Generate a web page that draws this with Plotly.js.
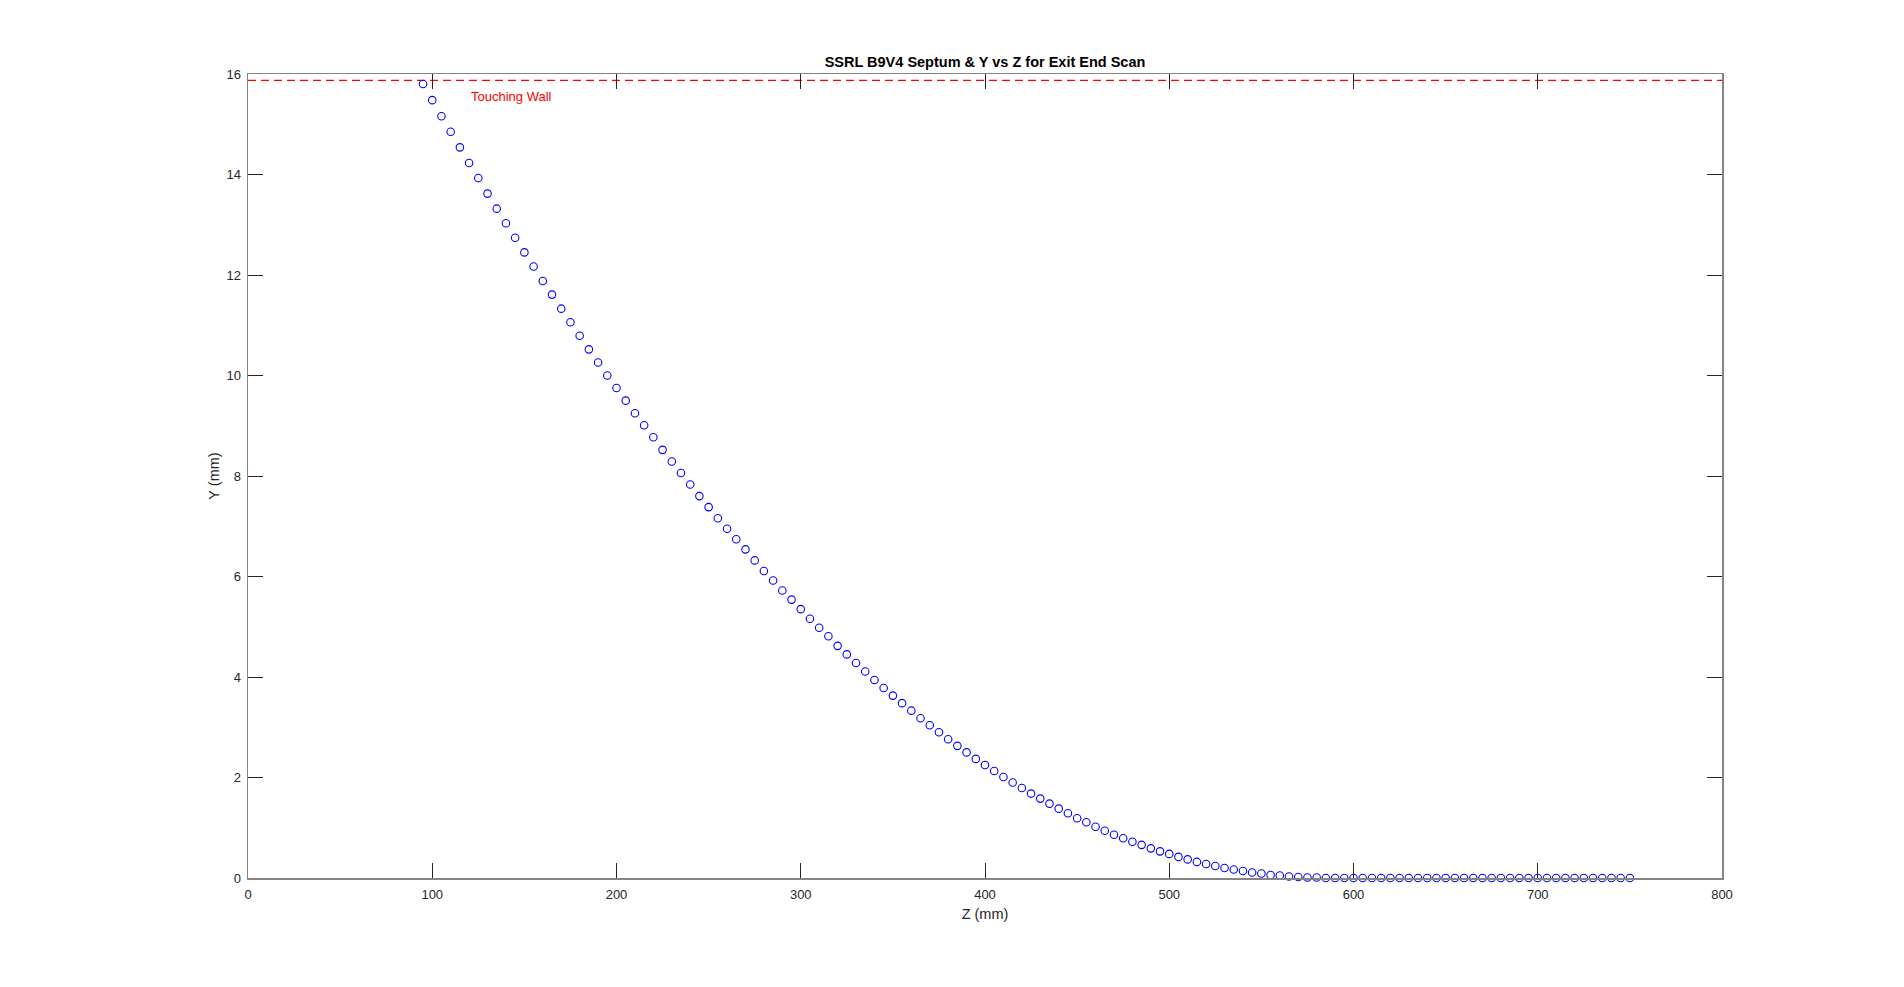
<!DOCTYPE html>
<html>
<head>
<meta charset="utf-8">
<script src="https://cdn.plot.ly/plotly-3.0.1.min.js"></script>
<style>html,body{margin:0;padding:0;background:#fff;}#chart{width:1904px;height:987px;}</style>
</head>
<body>
<div id="chart"></div>
<script>
const zScan = [95,100,105,110,115,120,125,130,135,140,145,150,155,160,165,170,175,180,185,190,195,
  200,205,210,215,220,225,230,235,240,245,250,255,260,265,270,275,280,285,290,295,
  300,305,310,315,320,325,330,335,340,345,350,355,360,365,370,375,380,385,390,395,
  400,405,410,415,420,425,430,435,440,445,450,455,460,465,470,475,480,485,490,495,
  500,505,510,515,520,525,530,535,540,545,550,555,560,565,570,575,580,585,590,595,
  600,605,610,615,620,625,630,635,640,645,650,655,660,665,670,675,680,685,690,695,
  700,705,710,715,720,725,730,735,740,745,750];
const yScan = [15.80,15.48,15.16,14.85,14.54,14.23,13.93,13.62,13.32,13.03,12.74,12.45,12.17,11.88,11.61,11.33,11.06,10.79,10.52,10.26,10.00,
  9.75,9.50,9.25,9.01,8.77,8.52,8.29,8.06,7.83,7.60,7.38,7.16,6.95,6.74,6.54,6.32,6.11,5.92,5.72,5.54,
  5.35,5.16,4.98,4.81,4.62,4.45,4.28,4.11,3.94,3.78,3.63,3.48,3.33,3.18,3.04,2.90,2.76,2.63,2.50,2.37,
  2.25,2.13,2.01,1.90,1.79,1.68,1.58,1.48,1.38,1.29,1.19,1.11,1.02,0.94,0.86,0.79,0.72,0.66,0.59,0.53,
  0.48,0.42,0.37,0.32,0.28,0.24,0.20,0.17,0.14,0.11,0.09,0.06,0.05,0.03,0.02,0.01,0.01,0,0,0,
  0,0,0,0,0,0,0,0,0,0,0,0,0,0,0,0,0,0,0,0,
  0,0,0,0,0,0,0,0,0,0,0];
const wallZ = [0, 800];
const wallY = [15.875, 15.875];
const wallLabel = "Touching Wall";
const wallLabelPos = [120, 15.56];
const xTicks = [0,100,200,300,400,500,600,700,800];
const yTicks = [0,2,4,6,8,10,12,14,16];
const titleText = "SSRL B9V4 Septum & Y vs Z for Exit End Scan";
const xLabel = "Z (mm)";
const yLabel = "Y (mm)";

const font = "Liberation Sans, Arial, Helvetica, sans-serif";
const traces = [
  {x: wallZ, y: wallY, mode: "lines", type: "scatter", hoverinfo: "skip",
   line: {color: "#ff0000", width: 1.3, dash: "8px,5px"}, cliponaxis: false},
  {x: zScan, y: yScan, mode: "markers", type: "scatter", cliponaxis: false,
   marker: {symbol: "circle-open", size: 7.5, color: "#0000ff", line: {width: 1.1, color: "#0000ff"}}}
];
const axisCommon = {
  showline: true, linecolor: "#858585", linewidth: 1.5, mirror: "ticks",
  ticks: "inside", ticklen: 15, tickwidth: 1, tickcolor: "#262626",
  showgrid: false, zeroline: false, fixedrange: true,
  tickfont: {family: font, size: 13, color: "#262626"}
};
const layout = {
  width: 1904, height: 987, autosize: false,
  paper_bgcolor: "#ffffff", plot_bgcolor: "#ffffff",
  margin: {l: 248, r: 182, t: 74, b: 109, pad: 0},
  showlegend: false,
  title: {text: "<b>" + titleText + "</b>", x: 0.5, xref: "paper", xanchor: "center",
          y: 1 - 62/987, yref: "container", yanchor: "middle",
          font: {family: font, size: 14.5, color: "#000000"}},
  xaxis: Object.assign({}, axisCommon, {range: [0, 800], tickvals: xTicks,
          ticktext: xTicks.map(String), ticklabelstandoff: 4,
          title: {text: xLabel, standoff: 8, font: {family: font, size: 14.5, color: "#262626"}}}),
  yaxis: Object.assign({}, axisCommon, {range: [0, 16], tickvals: yTicks,
          ticktext: yTicks.map(String), ticklabelstandoff: 3,
          title: {text: yLabel, standoff: 3, font: {family: font, size: 14.5, color: "#262626"}}}),
  annotations: [
    {x: wallLabelPos[0], y: wallLabelPos[1], xref: "x", yref: "y", text: wallLabel,
     showarrow: false, xanchor: "left", yanchor: "middle",
     font: {family: font, size: 13, color: "#ff0000"}}
  ]
};
Plotly.newPlot("chart", traces, layout, {displayModeBar: false, staticPlot: true});
</script>
</body>
</html>
